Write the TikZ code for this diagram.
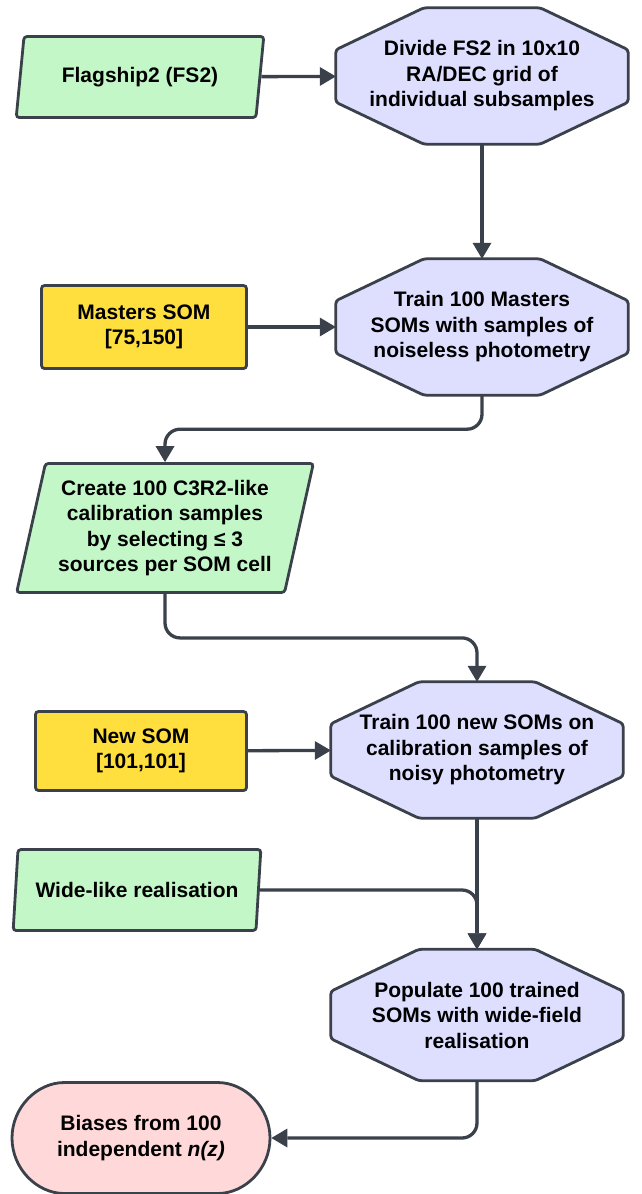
\documentclass[tikz,border=0pt]{standalone}
\usepackage{fontspec}
\setmainfont{Liberation Sans}
\usepackage{tikz}
\usetikzlibrary{shapes.geometric, shapes.misc, arrows.meta, backgrounds}
\definecolor{inputgreen}{HTML}{C3F7C8}
\definecolor{steplilac}{HTML}{DEDEFF}
\definecolor{somyellow}{HTML}{FFDF3D}
\definecolor{outpink}{HTML}{FFD9D9}
\definecolor{edgegray}{HTML}{3A414A}

% octagon outline round a rectangular node
\newcommand{\octaframe}[1]{%
  \filldraw[octaline]
    ([xshift=88pt]#1.north west) -- ([xshift=-88pt]#1.north east)
    -- ([yshift=-42pt]#1.north east) -- ([yshift=42pt]#1.south east)
    -- ([xshift=-88pt]#1.south east) -- ([xshift=88pt]#1.south west)
    -- ([yshift=42pt]#1.south west) -- ([yshift=-42pt]#1.north west) -- cycle;}

\begin{document}
\begin{tikzpicture}[
  x=1pt, y=-1pt,
  every node/.style = {font=\fontsize{21}{25.5}\selectfont\bfseries, align=center},
  base/.style = {draw=edgegray, line width=2.8pt, rounded corners=3pt, inner sep=0pt},
  octa/.style = {rectangle, inner sep=0pt, minimum width=292pt, minimum height=136pt},
  octaline/.style = {draw=edgegray, fill=steplilac, line width=2.8pt, rounded corners=3pt},
  para/.style = {
    base, fill=inputgreen, trapezium, trapezium stretches=true,
    trapezium left angle=75, trapezium right angle=105
  },
  som/.style = {base, fill=somyellow, rectangle},
  term/.style = {base, fill=outpink, rounded rectangle, minimum width=258pt, minimum height=111pt},
  arr/.style = {draw=edgegray, line width=3.3pt, rounded corners=15pt,
    -{Triangle[length=16pt, width=19pt, line width=0pt]}}
]
\useasboundingbox (0,0) rectangle (641,1194);

% ---- ROW 1: catalogue and grid ----
\node[para, minimum width=248pt, minimum height=81pt] (fs2) at (140,77) {Flagship2 (FS2)};
\node[octa] (divide) at (482,76) {Divide FS2 in 10x10\\RA/DEC grid of\\individual subsamples};

% ---- ROW 2: master SOMs ----
\node[som, minimum width=205pt, minimum height=83pt] (masters) at (144,327) {Masters SOM\\{[75,150]}};
\node[octa] (trainm) at (482,327) {Train 100 Masters\\SOMs with samples of\\noiseless photometry};

% ---- ROW 3: calibration samples ----
\node[para, minimum width=297pt, minimum height=129pt] (create) at (165,528)
  {Create 100 C3R2-like\\calibration samples\\by selecting ≤ 3\\sources per SOM cell};

% ---- ROW 4: new SOMs ----
\node[som, minimum width=211pt, minimum height=79pt] (newsom) at (141,751) {New SOM\\{[101,101]}};
\node[octa] (trainn) at (477,750) {Train 100 new SOMs on\\calibration samples of\\noisy photometry};

% ---- ROW 5: wide field and output ----
\node[para, minimum width=248pt, minimum height=81pt] (wide) at (137,890) {Wide-like realisation};
\node[octa, minimum height=131pt] (populate) at (477,1015) {Populate 100 trained\\SOMs with wide-field\\realisation};
\node[term] (biases) at (141,1138) {Biases from 100\\independent \textit{n(z)}};

% ---- OCTAGON OUTLINES ----
\begin{scope}[on background layer]
  \octaframe{divide}
  \octaframe{trainm}
  \octaframe{trainn}
  \octaframe{populate}
\end{scope}

% ---- straight arrows ----
\draw[arr] (fs2) -- (divide);
\draw[arr] (divide) -- (trainm);
\draw[arr] (masters) -- (trainm);
\draw[arr] (newsom) -- (trainn);
\draw[arr] (trainn) -- (populate);

% ---- bent arrows ----
\draw[arr] (trainm.south) -- ++(0,34) -| (create.center |- create.north);
\draw[arr] (create.center |- create.south) -- ++(0,44) -| (trainn.north);
\draw[arr] (wide.east) -| (populate.north);
\draw[arr] (populate.south) |- (biases.east);

\end{tikzpicture}
\end{document}
